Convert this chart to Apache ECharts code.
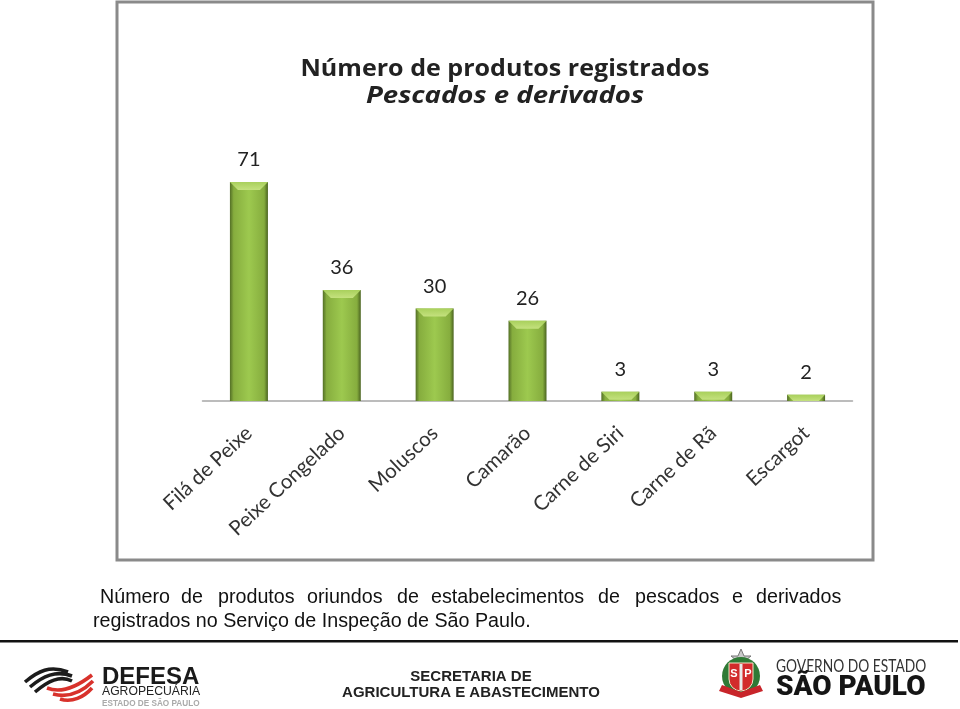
<!DOCTYPE html>
<html><head><meta charset="utf-8">
<style>html,body{margin:0;padding:0;background:#fff}#c{width:960px;height:709px}</style>
<script src="https://cdn.jsdelivr.net/npm/echarts@6/dist/echarts.min.js"></script>
</head><body><div id="c"></div>
<script>
const categories = ['Filá de Peixe','Peixe Congelado','Moluscos','Camarão','Carne de Siri','Carne de Rã','Escargot'];
const values = [71,36,30,26,3,3,2];
const titleLines = ['Número de produtos registrados','Pescados e derivados'];
const captionWords = [['Número',100],['de',181],['produtos',218],['oriundos',307],['de',397],['estabelecimentos',431],['de',598],['pescados',635],['e',732],['derivados',756]];
const captionLine2 = 'registrados no Serviço de Inspeção de São Paulo.';

const sans = '"Liberation Sans",Arial,sans-serif';
const chartFont = 'Lato,"Open Sans",sans-serif';
const titleFont = '"Open Sans",sans-serif';
const BAR = 38;
const chart = echarts.init(document.getElementById('c'), null, {renderer:'canvas'});
const txt = (x,y,t,font,fill,extra,sx)=>({type:'text',x,y,scaleX:sx||1,silent:true,style:Object.assign({text:t,font,fill,textVerticalAlign:'middle'},extra||{})});
const curve=(x1,y1,c1x,c1y,c2x,c2y,x2,y2,col,w)=>({type:'bezierCurve',silent:true,shape:{x1,y1,cpx1:c1x,cpy1:c1y,cpx2:c2x,cpy2:c2y,x2,y2},style:{stroke:col,lineWidth:w,fill:null,lineCap:'butt'}});
const rule=y=>({type:'rect',shape:{x:0,y,width:958,height:2.5},style:{fill:'#111'},silent:true});
const g=[
 {type:'rect',silent:true,z:-1,shape:{x:117,y:2,width:756,height:558},style:{fill:'#fff',stroke:'#8a8a8a',lineWidth:3}},
 txt(505,69,titleLines[0],'bold 23px '+titleFont,'#222',{textAlign:'center'},1.09),
 txt(505,96,titleLines[1],'italic bold 23px '+titleFont,'#222',{textAlign:'center'},1.2),
 ...captionWords.map(w=>txt(w[1],598,w[0],'19.7px '+sans,'#111')),
 txt(93,622,captionLine2,'19.7px '+sans,'#111'),
 rule(640),
 curve(25,682,38,671,50,665,68,672,'#1c1c1c',3.6),
 curve(30,687,43,676,56,670,72,676,'#1c1c1c',3.6),
 curve(35,692,48,681,60,675,72,681,'#1c1c1c',3.6),
 curve(47,688,62,694,78,686,92,675,'#d8322c',3.6),
 curve(53,694,68,698,82,692,93,681,'#d8322c',3.6),
 curve(60,699,72,703,84,697,92,688,'#d8322c',3.6),
 txt(102,677,'DEFESA','bold 24px '+sans,'#1a1a1a'),
 txt(102,692,'AGROPECUÁRIA','12.2px '+sans,'#222'),
 txt(102,704,'ESTADO DE SÃO PAULO','bold 8.2px '+sans,'#aaa'),
 txt(471,677,'SECRETARIA DE','bold 15px '+sans,'#222',{textAlign:'center'}),
 txt(471,693,'AGRICULTURA E ABASTECIMENTO','bold 15px '+sans,'#222',{textAlign:'center'}),
 {type:'polygon',silent:true,shape:{points:[[741,649],[744,656],[751,656],[746,660],[748,667],[741,663],[734,667],[736,660],[731,656],[738,656]]},style:{fill:'#c9c9c9',stroke:'#777'}},
 {type:'circle',silent:true,shape:{cx:741,cy:676,r:19},style:{fill:'#2f7a35'}},
 {type:'rect',silent:true,shape:{x:729,y:663,width:24,height:28,r:[0,0,12,12]},style:{fill:'#d22b2b',stroke:'#f0e6c8',lineWidth:1}},
 {type:'rect',silent:true,shape:{x:739.5,y:664,width:3,height:26},style:{fill:'#e9e9e9'}},
 txt(734,674,'S','bold 11px '+sans,'#fff',{textAlign:'center'}),
 txt(748,674,'P','bold 11px '+sans,'#fff',{textAlign:'center'}),
 {type:'polygon',silent:true,shape:{points:[[719,691],[741,698],[763,691],[760,685],[741,692],[722,685]]},style:{fill:'#c8252a'}},
 txt(776,667,'GOVERNO DO ESTADO','17px Lato,sans-serif','#333',{},0.81),
 txt(776,688,'SÃO PAULO','900 28px Roboto,sans-serif','#151515',{}),
];
chart.setOption({
 animation:false,
 backgroundColor:'#fff',
 graphic:g,
 grid:{left:202.5,right:107.5,top:182,bottom:308},
 xAxis:{type:'category',data:categories,
  axisLine:{lineStyle:{color:'#a6a6a6',width:1.5}},axisTick:{show:false},
  axisLabel:{rotate:43,interval:0,margin:29,fontFamily:chartFont,fontSize:20.5,color:'#333'}},
 yAxis:{type:'value',min:0,max:71,show:false,splitLine:{show:false}},
 series:[
  {type:'bar',data:values,barWidth:BAR,
   itemStyle:{color:new echarts.graphic.LinearGradient(0,0,1,0,[
     {offset:0,color:'#536f26'},{offset:.1,color:'#86ad3e'},{offset:.5,color:'#9dc94f'},{offset:.9,color:'#86ad3e'},{offset:1,color:'#4a6320'}])},
   label:{show:true,position:'top',distance:12,fontFamily:chartFont,fontSize:20,color:'#222'}},
  {type:'custom',data:values.map((v,i)=>[i,v]),encode:{x:0,y:1},silent:true,z:3,
   renderItem:(p,api)=>{
    const t=api.coord([api.value(0),api.value(1)]);
    const b=api.coord([api.value(0),0]);
    const h=Math.min(8,b[1]-t[1]), l=t[0]-BAR/2, r=t[0]+BAR/2;
    return {type:'polygon',shape:{points:[[l,t[1]],[r,t[1]],[r-h,t[1]+h],[l+h,t[1]+h]]},
      style:{fill:new echarts.graphic.LinearGradient(0,0,0,1,[{offset:0,color:'#a9d05c'},{offset:1,color:'#c4e17e'}])}};
   }}
 ]
});
</script></body></html>
